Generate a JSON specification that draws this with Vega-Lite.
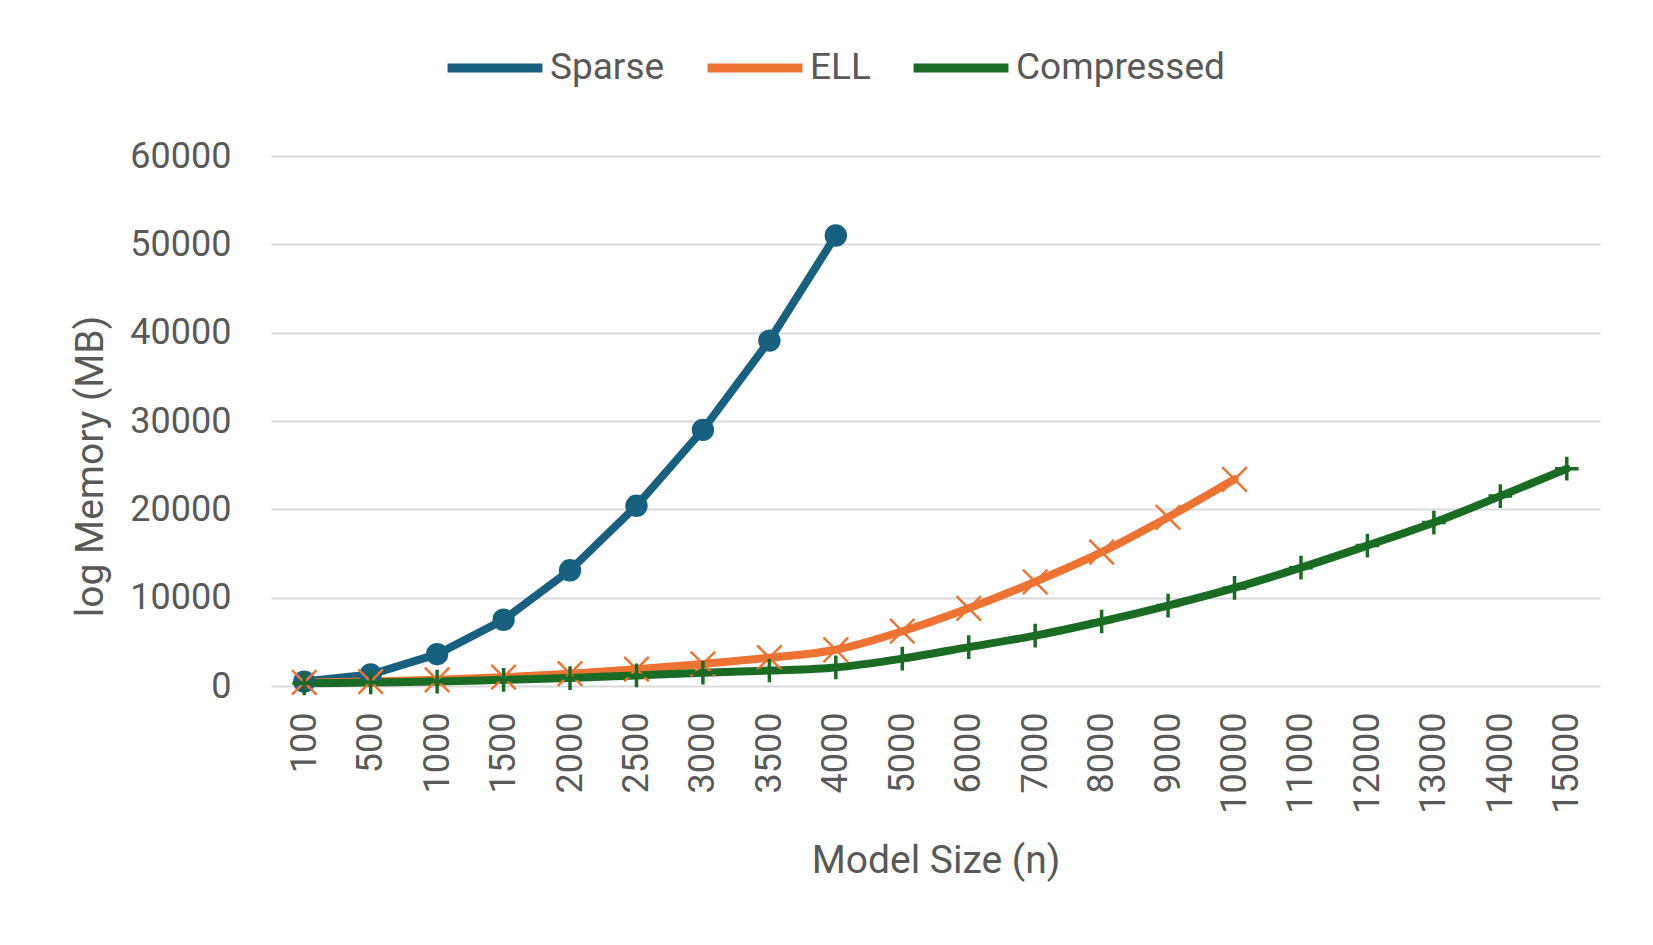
{
  "$schema": "https://vega.github.io/schema/vega-lite/v6.json",
  "autosize": {"type": "none"},
  "width": 1329,
  "height": 530,
  "padding": {"left": 271, "top": 156, "right": 53, "bottom": 259},
  "background": "white",
  "config": {
    "font": "Roboto",
    "view": {"stroke": null},
    "axis": {"labelColor": "#595959", "titleColor": "#595959", "labelFont": "Roboto", "titleFont": "Roboto", "titleFontWeight": "normal"}
  },
  "data": {
    "values": [
      {"n": 100, "series": "Sparse", "mem": 500},
      {"n": 500, "series": "Sparse", "mem": 1300},
      {"n": 1000, "series": "Sparse", "mem": 3600},
      {"n": 1500, "series": "Sparse", "mem": 7500},
      {"n": 2000, "series": "Sparse", "mem": 13100},
      {"n": 2500, "series": "Sparse", "mem": 20400},
      {"n": 3000, "series": "Sparse", "mem": 29000},
      {"n": 3500, "series": "Sparse", "mem": 39100},
      {"n": 4000, "series": "Sparse", "mem": 51000},
      {"n": 100, "series": "ELL", "mem": 400},
      {"n": 500, "series": "ELL", "mem": 500},
      {"n": 1000, "series": "ELL", "mem": 700},
      {"n": 1500, "series": "ELL", "mem": 1000},
      {"n": 2000, "series": "ELL", "mem": 1400},
      {"n": 2500, "series": "ELL", "mem": 1900},
      {"n": 3000, "series": "ELL", "mem": 2500},
      {"n": 3500, "series": "ELL", "mem": 3200},
      {"n": 4000, "series": "ELL", "mem": 4100},
      {"n": 5000, "series": "ELL", "mem": 6200},
      {"n": 6000, "series": "ELL", "mem": 8800},
      {"n": 7000, "series": "ELL", "mem": 11800},
      {"n": 8000, "series": "ELL", "mem": 15150},
      {"n": 9000, "series": "ELL", "mem": 19100},
      {"n": 10000, "series": "ELL", "mem": 23400},
      {"n": 100, "series": "Compressed", "mem": 300},
      {"n": 500, "series": "Compressed", "mem": 400},
      {"n": 1000, "series": "Compressed", "mem": 500},
      {"n": 1500, "series": "Compressed", "mem": 700},
      {"n": 2000, "series": "Compressed", "mem": 900},
      {"n": 2500, "series": "Compressed", "mem": 1200},
      {"n": 3000, "series": "Compressed", "mem": 1500},
      {"n": 3500, "series": "Compressed", "mem": 1750},
      {"n": 4000, "series": "Compressed", "mem": 2100},
      {"n": 5000, "series": "Compressed", "mem": 3100},
      {"n": 6000, "series": "Compressed", "mem": 4400},
      {"n": 7000, "series": "Compressed", "mem": 5700},
      {"n": 8000, "series": "Compressed", "mem": 7300},
      {"n": 9000, "series": "Compressed", "mem": 9100},
      {"n": 10000, "series": "Compressed", "mem": 11100},
      {"n": 11000, "series": "Compressed", "mem": 13400},
      {"n": 12000, "series": "Compressed", "mem": 15900},
      {"n": 13000, "series": "Compressed", "mem": 18500},
      {"n": 14000, "series": "Compressed", "mem": 21500},
      {"n": 15000, "series": "Compressed", "mem": 24600}
    ]
  },
  "encoding": {
    "x": {
      "field": "n", "type": "ordinal",
      "scale": {"type": "point", "padding": 0.5},
      "axis": {"title": "Model Size (n)", "labelAngle": -90, "labelFontSize": 36, "titleFontSize": 39, "ticks": false, "domain": false, "labelPadding": 26, "titlePadding": 28, "grid": false}
    },
    "y": {
      "field": "mem", "type": "quantitative",
      "scale": {"domain": [0, 60000]},
      "axis": {"title": "log Memory (MB)", "values": [0, 10000, 20000, 30000, 40000, 50000, 60000], "format": "d", "labelFontSize": 36, "titleFontSize": 39, "ticks": false, "domain": false, "labelPadding": 40, "titleX": -181, "titleY": 310, "titleBaseline": "middle", "titleAlign": "center", "titleAngle": -90, "gridColor": "#d9d9d9", "gridWidth": 2}
    },
    "color": {
      "field": "series", "type": "nominal",
      "scale": {"domain": ["Sparse", "ELL", "Compressed"], "range": ["#17607f", "#ec7332", "#1a6b23"]}
    }
  },
  "layer": [
    {
      "transform": [{"filter": "datum.series === 'Sparse'"}],
      "mark": {"type": "line", "strokeWidth": 8, "strokeCap": "round"},
      "encoding": {
        "color": {
          "field": "series", "type": "nominal",
          "legend": {"orient": "none", "legendX": 172, "legendY": -140, "direction": "horizontal", "title": null, "symbolType": "stroke", "symbolStrokeWidth": 9, "symbolSize": 9000, "labelFontSize": 37, "labelColor": "#595959", "labelFont": "Roboto", "labelLimit": 400, "columnPadding": 24, "labelOffset": 3}
        }
      }
    },
    {
      "transform": [{"filter": "datum.series !== 'Sparse'"}],
      "mark": {"type": "line", "strokeWidth": 8, "interpolate": "monotone", "strokeCap": "round"}
    },
    {
      "transform": [{"filter": "datum.series === 'Sparse'"}],
      "mark": {"type": "point", "shape": "circle", "filled": true, "size": 500, "opacity": 1}
    },
    {
      "transform": [{"filter": "datum.series === 'ELL'"}],
      "mark": {"type": "point", "shape": "M-1,-1L1,1M-1,1L1,-1", "filled": false, "size": 600, "strokeWidth": 2.5, "opacity": 1}
    },
    {
      "transform": [{"filter": "datum.series === 'Compressed'"}],
      "mark": {"type": "point", "shape": "M0,-1L0,1M-1,0L1,0", "filled": false, "size": 560, "strokeWidth": 3.5, "opacity": 1}
    }
  ]
}
